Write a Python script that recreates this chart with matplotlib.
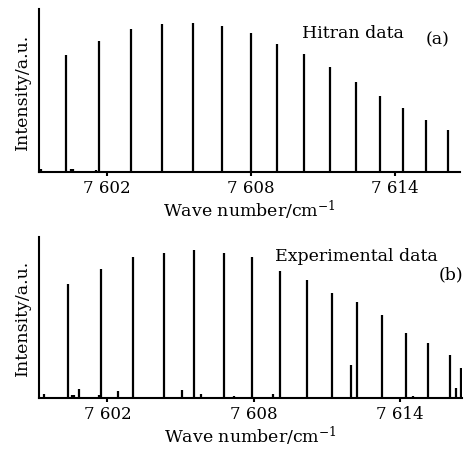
import matplotlib
matplotlib.use("Agg")
import matplotlib.pyplot as plt

plt.rcParams['font.family'] = ['DejaVu Serif']
plt.rcParams['mathtext.fontset'] = 'dejavuserif'

# Hitran lines (wave number, intensity)
hitran_x = [7600.28, 7601.67, 7603.00, 7604.28, 7605.56, 7606.77, 7607.98, 7609.08,
            7610.21, 7611.28, 7612.35, 7613.36, 7614.31, 7615.27, 7616.21]
hitran_y = [0.78, 0.88, 0.96, 0.99, 1.00, 0.98, 0.93, 0.86,
            0.79, 0.70, 0.60, 0.51, 0.43, 0.35, 0.28]
hitran_weak_x = [7599.25, 7600.48, 7600.57, 7601.53]
hitran_weak_y = [0.02, 0.02, 0.02, 0.015]

# experimental lines
exp_x = [7600.38, 7601.74, 7603.05, 7604.32, 7605.55, 7606.77, 7607.94, 7609.08,
         7610.17, 7611.22, 7612.25, 7613.26, 7614.23, 7615.14, 7616.03,
         7611.99, 7616.30, 7616.50]
exp_y = [0.77, 0.87, 0.95, 0.98, 1.00, 0.98, 0.95, 0.86,
         0.80, 0.71, 0.65, 0.56, 0.44, 0.37, 0.29,
         0.22, 0.07, 0.20]
exp_weak_x = [7599.40, 7600.55, 7600.62, 7600.85, 7601.67, 7602.43, 7605.05,
              7605.83, 7607.19, 7608.80, 7614.54]
exp_weak_y = [0.03, 0.02, 0.02, 0.06, 0.02, 0.05, 0.055, 0.03, 0.015, 0.03, 0.01]

xticks = [7602, 7608, 7614]
xticklabels = ["7 602", "7 608", "7 614"]

fig = plt.figure(figsize=(4.65, 4.52), dpi=100)
ax1 = fig.add_axes([0.0845, 0.617, 0.905, 0.3606])
ax2 = fig.add_axes([0.0845, 0.1173, 0.9097, 0.357])

panels = [
    (ax1, hitran_x, hitran_y, hitran_weak_x, hitran_weak_y, (7599.17, 7616.70),
     "Hitran data", (0.624, 0.859), "(a)", (0.917, 0.816)),
    (ax2, exp_x, exp_y, exp_weak_x, exp_weak_y, (7599.21, 7616.55),
     "Experimental data", (0.557, 0.882), "(b)", (0.943, 0.769)),
]

for ax, x, y, wx, wy, xlim, name, npos, tag, tpos in panels:
    ax.vlines(x, 0, y, color="black", lw=1.6)
    ax.vlines(wx, 0, wy, color="black", lw=1.6)
    ax.set_xlim(*xlim)
    ax.set_ylim(0, 1.09)
    ax.spines["top"].set_visible(False)
    ax.spines["right"].set_visible(False)
    ax.spines["left"].set_linewidth(1.5)
    ax.spines["bottom"].set_linewidth(1.5)
    ax.set_yticks([])
    ax.set_xticks(xticks)
    ax.set_xticklabels(xticklabels, fontsize=12)
    ax.tick_params(axis="x", direction="out", length=3, width=1.5, pad=2)
    ax.set_xlabel("Wave number/cm$^{-1}$", fontsize=12.5, labelpad=1)
    ax.set_ylabel("Intensity/a.u.", fontsize=12.5, labelpad=6)
    ax.text(npos[0], npos[1], name, transform=ax.transAxes, fontsize=12.5,
            ha="left", va="center")
    ax.text(tpos[0], tpos[1], tag, transform=ax.transAxes, fontsize=12.5,
            ha="left", va="center")

fig.savefig("out.png", dpi=100)
